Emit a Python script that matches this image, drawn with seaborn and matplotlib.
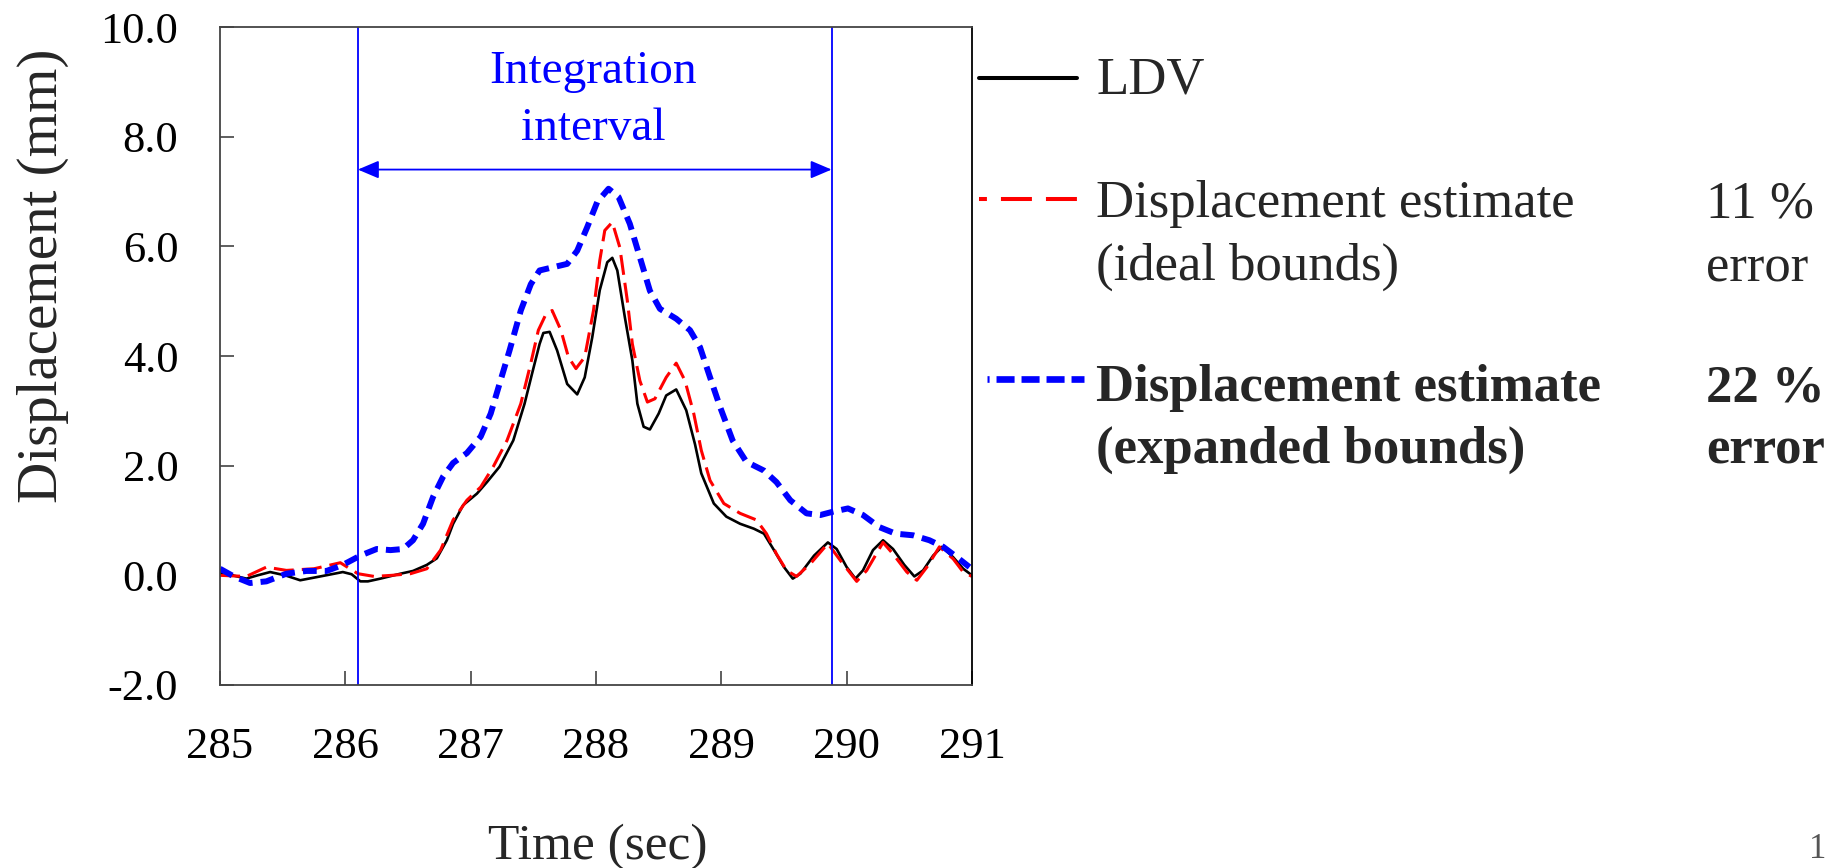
import matplotlib
matplotlib.use("Agg")
import matplotlib.pyplot as plt
from matplotlib.lines import Line2D
import numpy as np
import pandas as pd
import seaborn as sns

# ---- data -----------------------------------------------------------------
t_ldv = [285.00, 285.10, 285.21, 285.30, 285.40, 285.52, 285.64, 285.80, 285.98, 286.05,
         286.12, 286.18, 286.28, 286.44, 286.54, 286.65, 286.73, 286.81, 286.86, 286.94,
         287.05, 287.13, 287.23, 287.34, 287.43, 287.49, 287.55, 287.58, 287.63, 287.69,
         287.77, 287.85, 287.91, 287.97, 288.03, 288.09, 288.13, 288.17, 288.23, 288.29,
         288.33, 288.38, 288.43, 288.50, 288.56, 288.64, 288.72, 288.79, 288.84, 288.94,
         289.04, 289.15, 289.26, 289.34, 289.42, 289.50, 289.57, 289.63, 289.74, 289.85,
         289.92, 290.00, 290.07, 290.13, 290.21, 290.29, 290.37, 290.46, 290.54, 290.61,
         290.69, 290.76, 290.85, 290.93, 291.00]
d_ldv = [0.05, 0.00, -0.06, 0.00, 0.06, 0.00, -0.09, -0.02, 0.06, 0.02,
         -0.11, -0.11, -0.06, 0.03, 0.08, 0.19, 0.31, 0.64, 0.94, 1.28,
         1.49, 1.70, 1.98, 2.46, 3.13, 3.68, 4.22, 4.42, 4.44, 4.10,
         3.49, 3.30, 3.61, 4.34, 5.20, 5.71, 5.79, 5.56, 4.71, 3.92,
         3.13, 2.71, 2.66, 2.95, 3.28, 3.39, 3.01, 2.39, 1.86, 1.31,
         1.07, 0.94, 0.85, 0.76, 0.46, 0.15, -0.06, 0.03, 0.36, 0.60,
         0.48, 0.15, -0.06, 0.09, 0.46, 0.64, 0.48, 0.19, -0.02, 0.09,
         0.36, 0.52, 0.33, 0.12, 0.00]

t_ideal = [285.00, 285.21, 285.37, 285.53, 285.75, 285.96, 286.10, 286.23, 286.37, 286.52,
           286.65, 286.76, 286.86, 286.97, 287.08, 287.18, 287.29, 287.40, 287.48, 287.54,
           287.60, 287.65, 287.72, 287.78, 287.84, 287.91, 287.98, 288.03, 288.07, 288.13,
           288.19, 288.25, 288.29, 288.35, 288.41, 288.47, 288.56, 288.64, 288.71, 288.78,
           288.84, 288.91, 289.02, 289.15, 289.28, 289.36, 289.44, 289.52, 289.60, 289.71,
           289.85, 289.95, 290.08, 290.16, 290.29, 290.37, 290.48, 290.56, 290.64, 290.74,
           290.85, 290.93, 291.00]
d_ideal = [0.00, -0.02, 0.15, 0.09, 0.12, 0.23, 0.03, -0.02, 0.00, 0.03,
           0.12, 0.46, 1.01, 1.37, 1.61, 1.98, 2.46, 3.13, 3.87, 4.47,
           4.76, 4.83, 4.47, 3.98, 3.77, 3.98, 4.83, 5.74, 6.29, 6.44,
           5.98, 5.01, 4.22, 3.55, 3.16, 3.22, 3.61, 3.87, 3.55, 2.95,
           2.28, 1.73, 1.31, 1.13, 1.01, 0.76, 0.39, 0.09, -0.02, 0.21,
           0.58, 0.27, -0.11, 0.09, 0.60, 0.39, 0.06, -0.09, 0.15, 0.52,
           0.30, 0.06, -0.02]

t_exp = [285.00, 285.11, 285.24, 285.37, 285.53, 285.69, 285.85, 285.98, 286.12, 286.25,
         286.36, 286.46, 286.54, 286.62, 286.70, 286.78, 286.86, 286.97, 287.08, 287.16,
         287.23, 287.31, 287.40, 287.48, 287.55, 287.66, 287.77, 287.85, 287.93, 288.01,
         288.10, 288.18, 288.27, 288.35, 288.43, 288.51, 288.64, 288.75, 288.83, 288.91,
         288.99, 289.09, 289.20, 289.34, 289.44, 289.55, 289.68, 289.79, 289.89, 290.01,
         290.13, 290.26, 290.39, 290.53, 290.66, 290.77, 290.88, 290.98]
d_exp = [0.12, -0.02, -0.14, -0.11, 0.03, 0.08, 0.08, 0.19, 0.36, 0.48,
         0.46, 0.48, 0.64, 0.94, 1.43, 1.80, 2.05, 2.23, 2.53, 2.95,
         3.49, 4.10, 4.83, 5.31, 5.56, 5.62, 5.68, 5.92, 6.35, 6.81,
         7.05, 6.90, 6.41, 5.80, 5.19, 4.86, 4.68, 4.47, 4.16, 3.61,
         3.07, 2.46, 2.07, 1.91, 1.70, 1.37, 1.13, 1.10, 1.16, 1.22,
         1.10, 0.88, 0.76, 0.73, 0.64, 0.52, 0.33, 0.15]

interval_start = 286.10
interval_end = 289.88
interval_arrow_y = 7.4

x_ticks = [285, 286, 287, 288, 289, 290, 291]
y_ticks = [-2.0, 0.0, 2.0, 4.0, 6.0, 8.0, 10.0]
y_tick_labels = ["-2.0", "0.0", "2.0", "4.0", "6.0", "8.0", "10.0"]

legend_labels = [["LDV"],
                 ["Displacement estimate", "(ideal bounds)"],
                 ["Displacement estimate", "(expanded bounds)"]]
error_labels = [["11 %", "error"], ["22 %", "error"]]

# ---- style ----------------------------------------------------------------
sns.set_style("white")
plt.rcParams["font.family"] = ["Liberation Serif", "DejaVu Serif"]
plt.rcParams["lines.scale_dashes"] = False

W, H = 1829, 868
fig = plt.figure(figsize=(W / 100, H / 100), dpi=100)


def fx(x):
    return x / W


def fy(y):
    return 1 - y / H


ax = fig.add_axes([fx(220), fy(685), 752 / W, 658 / H])

BLUE = "#0000FF"
RED = "#FF0000"

df_ldv = pd.DataFrame({"t": t_ldv, "d": d_ldv})
df_ideal = pd.DataFrame({"t": t_ideal, "d": d_ideal})
df_exp = pd.DataFrame({"t": t_exp, "d": d_exp})

sns.lineplot(data=df_ldv, x="t", y="d", ax=ax, color="black", linewidth=1.9,
             sort=False, estimator=None, legend=False)
sns.lineplot(data=df_ideal, x="t", y="d", ax=ax, color=RED, linewidth=2.2,
             linestyle=(0, (14.4, 5.8)), sort=False, estimator=None, legend=False)
sns.lineplot(data=df_exp, x="t", y="d", ax=ax, color=BLUE, linewidth=4.3,
             linestyle=(0, (10, 5.8)), sort=False, estimator=None, legend=False)

# integration interval markers
ax.axvline(interval_start, color=BLUE, lw=1.3)
ax.axvline(interval_end, color=BLUE, lw=1.3)
ax.annotate("", xy=(interval_start, interval_arrow_y), xytext=(interval_end, interval_arrow_y),
            arrowprops=dict(arrowstyle="<|-|>,head_length=0.4,head_width=0.17",
                            mutation_scale=32, color=BLUE, lw=1.3, shrinkA=0, shrinkB=0))
ax.text(287.98, 8.98, "Integration", ha="center", va="baseline", fontsize=34, color=BLUE)
ax.text(287.98, 7.94, "interval", ha="center", va="baseline", fontsize=34, color=BLUE)

# axes
ax.set_xlim(285, 291)
ax.set_ylim(-2, 10)
ax.set_xticks(x_ticks)
ax.set_xticklabels([str(v) for v in x_ticks])
ax.set_yticks(y_ticks)
ax.set_yticklabels(y_tick_labels)
ax.tick_params(bottom=True, left=True, top=False, right=False,
               direction="in", length=10, width=1.1, color="#333333",
               labelsize=32, labelcolor="black", pad=30)
for name, sp in ax.spines.items():
    sp.set_visible(True)
    sp.set_color("#444444")
    sp.set_linewidth(1.3)
ax.spines["right"].set_color("black")

ax.set_xlabel("Time (sec)", fontsize=37)
ax.xaxis.set_label_coords(0.5027, -0.2644)
ax.xaxis.label.set_verticalalignment("baseline")
ax.set_ylabel("Displacement (mm)", fontsize=41)
ax.yaxis.set_label_coords(-0.2168, 0.622)
ax.yaxis.label.set_verticalalignment("baseline")

# legend drawn beside the axes
fig.add_artist(Line2D([fx(979), fx(1077)], [fy(78)] * 2, transform=fig.transFigure,
                      color="black", lw=2.9))
fig.add_artist(Line2D([fx(979), fx(1077)], [fy(199)] * 2, transform=fig.transFigure,
                      color=RED, lw=2.9, linestyle=(16.6, (22.3, 10.1))))
fig.add_artist(Line2D([fx(987), fx(1084)], [fy(379)] * 2, transform=fig.transFigure,
                      color=BLUE, lw=4.8, linestyle=(11.5, (13, 5))))

TX = 1096
fig.text(fx(TX), fy(94), legend_labels[0][0], fontsize=38, va="baseline")
fig.text(fx(TX), fy(217), legend_labels[1][0], fontsize=38, va="baseline")
fig.text(fx(TX), fy(280), legend_labels[1][1], fontsize=38, va="baseline")
fig.text(fx(TX), fy(401), legend_labels[2][0], fontsize=38, va="baseline", fontweight="bold")
fig.text(fx(TX), fy(463), legend_labels[2][1], fontsize=38, va="baseline", fontweight="bold")

EX = 1706
fig.text(fx(EX), fy(217), error_labels[0][0], fontsize=38, va="baseline")
fig.text(fx(EX), fy(282), error_labels[0][1], fontsize=38, va="baseline")
fig.text(fx(EX), fy(401), error_labels[1][0], fontsize=38, va="baseline", fontweight="bold")
fig.text(fx(EX), fy(463), error_labels[1][1], fontsize=38, va="baseline", fontweight="bold")

# page number
fig.text(fx(1826), fy(866), "1", fontsize=25, color="#555555", ha="right", va="bottom")

fig.savefig("out.png", dpi=100, facecolor="white")
